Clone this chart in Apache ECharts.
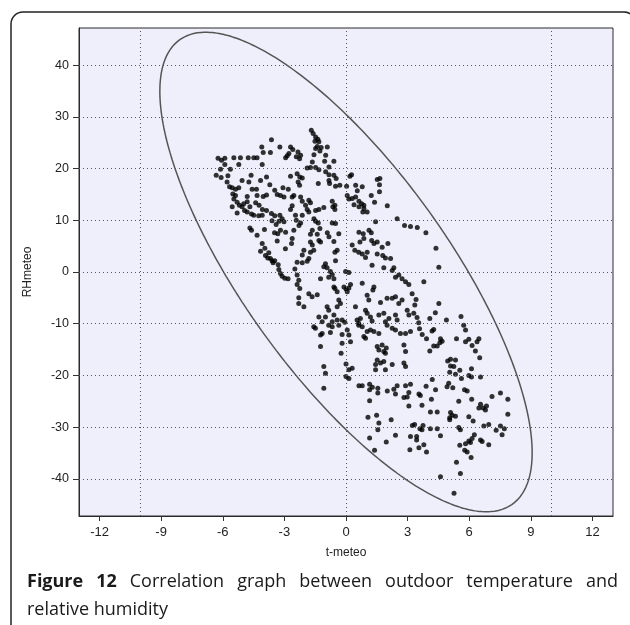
<!DOCTYPE html>
<html><head><meta charset="utf-8">
<script src="https://cdn.jsdelivr.net/npm/echarts@6/dist/echarts.min.js"></script>
<style>html,body{margin:0;padding:0;background:#fff}#c{width:630px;height:625px}</style>
</head><body><div id="c"></div>
<script>
// ---- data (t-meteo, RHmeteo), grouped by region ----
const xTickValues = [-12,-9,-6,-3,0,3,6,9,12];
const yTickValues = [-40,-30,-20,-10,0,10,20,30,40];
const xGridValues = [-10,0,10];
const xTitle = 't-meteo';
const yTitle = 'RHmeteo';
const captionBold = ['Figure','12'];
const captionLine1 = ['Correlation','graph','between','outdoor','temperature','and'];
const captionLine2 = 'relative humidity';

const obsUpperLeft = [[-3.63,25.6],[-4.10,24.2],[-3.22,24.2],[-3.68,23.1],[-4.03,23.1],[-6.23,22.0],[-6.06,21.6],[-5.90,22.0],[-5.46,22.1],[-5.14,22.1],
[-4.76,22.1],[-4.49,22.1],[-4.33,22.1],[-5.90,20.8],[-5.22,20.8],[-4.08,20.8],[-6.11,19.9],[-5.63,19.9],[-6.32,18.7],[-6.08,18.3],
[-5.75,18.6],[-4.62,18.7],[-5.06,17.7],[-4.16,17.7],[-3.87,18.4],[-5.79,17.4],[-5.67,16.5],[-5.54,16.3],[-5.38,16.0],[-5.22,16.3],
[-4.73,17.4],[-4.57,16.0],[-4.36,16.0],[-3.71,16.9],[-3.47,15.8],[-3.35,15.0],[-5.51,15.1],[-5.38,14.8],[-4.81,14.6],[-4.33,14.8],
[-4.03,14.6],[-3.87,14.9],[-5.46,14.1],[-5.30,13.5],[-4.98,13.2],[-4.81,13.6],[-4.40,13.4],[-4.23,12.9],[-5.54,12.6],[-5.19,12.9],
[-5.06,12.6],[-4.68,12.6],[-4.07,12.1],[-3.87,11.9],[-4.94,11.9],[-4.81,11.6],[-5.30,11.4],[-4.60,11.2],[-4.49,11.0],[-4.25,10.9],
[-4.08,11.0],[-3.63,11.3],[-3.47,10.9],[-3.22,11.0],[-3.60,9.9],[-3.40,9.2],[-3.26,9.8],[-4.68,8.5],[-4.60,8.1],[-3.97,8.2],
[-4.33,7.1],[-3.48,7.6],[-3.32,7.4],[-4.08,5.5],[-3.95,4.6],[-3.35,6.0]];

const obsUpperMiddle = [[-1.69,27.4],[-1.60,26.8],[-1.48,26.1],[-1.37,25.7],[-1.51,25.3],[-1.32,25.2],[-1.40,24.3],[-1.21,24.1],[-1.48,23.9],[-1.27,23.4],
[-0.91,24.2],[-2.70,24.2],[-2.59,23.7],[-2.78,22.9],[-2.34,23.2],[-2.21,22.6],[-2.42,22.3],[-2.26,21.9],[-2.94,22.1],[-2.86,22.5],
[-1.56,22.7],[-0.99,22.6],[-1.64,21.3],[-1.04,21.4],[-0.59,21.4],[-1.48,20.2],[-1.32,19.8],[-1.89,20.1],[-1.73,20.2],[-0.83,20.3],
[-2.70,18.5],[-2.38,19.0],[-2.25,18.4],[-2.13,18.2],[-0.99,19.4],[-0.83,18.8],[-0.59,18.7],[-0.48,18.1],[0.19,18.5],[0.27,18.8],
[1.52,17.9],[1.65,18.1],[1.63,16.9],[1.63,15.5],[-2.33,17.4],[-2.26,16.8],[-1.35,17.1],[-0.83,17.7],[-0.80,17.1],[-0.51,16.6],
[-0.30,16.8],[0.03,16.6],[0.47,16.8],[0.79,16.5],[0.55,15.7],[-3.07,16.3],[-2.81,16.0],[-3.19,14.8],[-3.02,14.5],[-2.62,14.5],
[-2.54,14.8],[-2.21,14.5],[-2.13,13.7],[-1.81,13.9],[-1.73,13.4],[-0.67,13.7],[-0.54,12.9],[0.06,14.8],[0.14,14.1],[0.30,14.2],
[0.47,14.5],[0.63,13.7],[0.76,13.2],[0.87,12.9],[0.39,13.0],[1.23,14.8],[1.39,13.5],[-2.62,12.8],[-2.70,12.1],[-1.97,12.9],
[-1.89,12.1],[-1.81,11.6],[-1.48,11.9],[-1.32,12.1],[-1.08,12.5],[-0.64,12.6],[-0.54,12.1],[0.63,12.6],[0.87,12.3],[0.82,11.6],
[1.03,11.6],[-3.11,10.3],[-3.02,9.7],[-2.46,11.0],[-2.42,10.0],[-2.13,11.0],[-1.56,10.3],[-1.48,9.8],[-1.35,9.5],[-1.27,8.4],
[-0.67,9.5],[-0.51,9.4],[-2.21,9.5],[-2.29,9.0],[-3.19,8.1],[-2.94,7.7],[-2.54,8.1],[-1.64,8.1],[-1.73,7.3],[-1.40,7.3],
[-0.91,7.6],[-0.83,6.8],[-0.35,7.4],[1.44,9.7],[0.63,7.7],[0.84,7.4],[1.12,8.1],[1.23,7.6],[-2.62,6.5],[-2.65,5.5],
[-1.73,5.8],[-1.64,5.2],[-1.32,6.1],[-1.24,5.8],[-0.59,5.9],[0.30,5.2],[0.68,5.8],[0.87,6.5],[1.25,6.1],[1.36,5.5],
[1.52,5.8],[1.76,4.8]];

const obsUpperRight = [[2.01,12.8],[2.49,10.3],[2.85,9.0],[3.14,8.8],[3.47,8.6],[3.89,7.6],[4.38,4.6],[4.52,0.9],[2.04,5.5]];

const obsMiddleLeft = [[-4.16,4.0],[-3.76,3.7],[-3.92,3.2],[-3.81,2.7],[-3.68,2.6],[-3.60,2.2],[-3.47,2.2],[-3.55,1.8],[-3.30,1.4],[-2.95,4.5],
[-2.38,1.9],[-2.49,0.6],[-2.38,-0.6],[-3.27,0.5],[-3.19,-0.3],[-3.11,-0.8],[-2.98,-1.2],[-2.82,-1.3],[-2.30,-1.6],[-2.38,-2.4],
[-2.25,-3.2],[-2.30,-5.0],[-2.30,-6.1]];

const obsMiddle = [[-2.05,4.2],[-2.13,3.3],[-1.73,3.8],[-1.57,4.2],[-1.81,2.6],[-1.89,2.1],[-2.13,1.8],[-1.00,1.6],[-1.08,1.0],[-0.92,0.8],
[-0.76,0.1],[-0.67,-0.5],[-0.54,3.8],[-0.43,4.2],[-0.51,2.2],[-0.02,0.1],[0.14,-0.1],[0.43,4.2],[0.62,3.8],[0.79,3.5],
[0.95,2.8],[1.03,3.8],[1.52,3.5],[1.79,3.2],[1.92,2.7],[2.17,2.6],[2.33,0.8],[2.25,0.3],[1.27,1.3],[1.84,0.8],
[2.41,-1.0],[2.57,-0.6],[2.73,-1.3],[2.90,-1.9],[3.06,-2.4],[-1.24,-1.3],[-0.84,-1.0],[-0.59,-1.3],[-2.05,-6.7],[-1.81,-4.2],
[-1.65,-4.8],[-1.40,-4.4],[-0.59,-2.9],[-0.54,-3.2],[-0.43,-3.8],[-0.10,-2.9],[0.00,-3.3],[0.14,-3.1],[0.06,-3.8],[0.22,-2.4],
[0.79,-2.2],[1.03,-4.5],[1.11,-5.4],[1.36,-2.9],[1.31,-3.5],[1.68,-5.9],[2.00,-5.1],[2.25,-5.1],[2.41,-4.8],[2.57,-6.1],
[2.73,-5.4],[2.98,-7.4],[3.22,-4.2],[3.35,-6.4],[-0.35,-5.4],[-0.27,-6.1],[-0.43,-6.7],[-0.92,-6.7],[-0.84,-7.4],[0.46,-6.7],
[0.95,-7.4],[1.03,-8.0],[1.60,-8.3],[1.84,-8.0],[2.09,-9.0],[2.41,-8.3],[2.49,-9.3],[3.06,-8.3],[3.30,-8.0],[-1.32,-8.7],
[-1.16,-9.6],[-0.59,-8.3],[-0.67,-9.6],[-0.43,-9.3],[-0.35,-10.3],[-1.00,-8.7],[-0.19,-9.3],[-0.06,-9.7],[0.54,-9.3],[0.62,-9.9],
[0.70,-9.0],[1.19,-8.7],[1.27,-9.5],[1.92,-9.6],[2.00,-10.3],[2.25,-10.9],[2.41,-11.2],[2.65,-11.9],[2.90,-11.9],[3.14,-11.5],
[-1.57,-10.6],[-1.49,-10.9],[-0.84,-10.3],[-0.67,-10.6],[-0.76,-11.7],[0.06,-11.2],[0.14,-12.2],[0.22,-13.5],[0.62,-10.3],[0.79,-10.6],
[-1.24,-12.2],[-1.16,-11.9],[-0.19,-12.1],[1.03,-11.5],[1.19,-11.2],[1.36,-11.5],[0.87,-12.5],[0.95,-12.8],[1.60,-11.9],[-1.24,-14.4],
[-0.19,-13.8],[-0.24,-15.7],[1.52,-14.4],[1.60,-15.1],[1.76,-14.1],[1.84,-15.4],[1.96,-14.7],[1.92,-15.7],[2.82,-14.1],[2.90,-15.4],
[1.52,-17.0],[1.44,-17.9],[1.68,-17.6],[1.84,-17.3],[2.25,-17.9],[2.82,-17.6],[2.90,-18.3],[0.00,-17.8],[-1.08,-18.3],[-1.00,-19.6],
[0.14,-18.9],[0.30,-18.6],[1.44,-18.9],[1.92,-18.9],[0.00,-20.2],[0.14,-20.6]];

const obsMiddleRight = [[3.79,-1.9],[4.20,-20.8],[4.36,-22.8]];

const obsLowerRight = [[3.41,-5.3],[4.52,-6.1],[4.35,-7.9],[4.08,-9.0],[4.89,-9.3],[5.60,-8.6],[5.73,-10.3],[5.82,-11.2],[3.46,-8.8],[3.54,-9.8],
[3.58,-11.0],[3.71,-12.1],[3.92,-12.9],[4.19,-11.4],[4.27,-11.1],[4.60,-12.9],[4.68,-13.4],[4.57,-13.7],[4.08,-15.3],[4.27,-14.3],
[4.44,-14.3],[5.38,-12.9],[5.82,-13.5],[5.98,-13.0],[6.14,-14.2],[6.30,-15.3],[6.51,-16.6],[6.38,-13.5],[6.47,-12.9],[4.95,-17.2],
[5.09,-16.9],[5.33,-17.0],[5.09,-18.2],[5.25,-18.3],[5.54,-19.0],[5.05,-19.4],[5.33,-19.8],[5.62,-20.6],[6.11,-18.7],[5.98,-20.0],
[6.11,-20.3],[6.55,-20.3],[5.00,-21.5],[5.20,-22.4],[4.92,-22.2],[5.77,-22.8],[5.90,-23.0],[6.12,-24.6],[5.49,-25.0],[6.55,-25.6],
[6.68,-26.3],[6.79,-26.7],[6.84,-25.9],[6.47,-26.3],[7.11,-24.1],[7.52,-23.4],[7.88,-24.6],[7.88,-27.5],[4.16,-24.6],[4.11,-27.1],
[4.44,-27.1],[5.09,-27.2],[5.17,-27.7],[5.05,-28.2],[5.05,-28.6],[5.33,-27.9],[5.98,-28.0],[6.19,-28.8],[3.75,-29.7],[3.70,-30.5],
[4.11,-30.3],[4.44,-30.3],[4.60,-31.7],[5.49,-30.1],[5.57,-30.5],[6.71,-29.8],[6.95,-29.5],[7.31,-30.6],[7.52,-29.8],[7.60,-31.5],
[7.71,-30.3],[6.25,-31.5],[6.14,-32.2],[6.06,-33.0],[5.98,-32.7],[6.63,-32.8],[6.55,-32.5],[6.95,-33.4],[5.54,-33.5],[5.78,-34.5],
[5.90,-34.8],[6.09,-35.9],[5.82,-33.2],[5.38,-36.8],[5.57,-39.0],[4.60,-39.6],[3.90,-22.1],[3.62,-23.9],[3.70,-25.8],[3.79,-33.4],
[3.92,-34.8],[5.26,-42.8]];

const obsLowerMiddle = [[-1.08,-22.5],[0.63,-22.0],[0.79,-22.0],[1.15,-21.7],[1.15,-22.8],[1.28,-22.3],[1.55,-22.5],[1.55,-23.4],[2.01,-23.0],[2.33,-22.7],
[2.41,-23.6],[2.49,-22.0],[2.90,-22.0],[3.06,-23.3],[2.82,-24.3],[2.98,-24.2],[3.14,-21.7],[3.55,-23.6],[1.15,-24.9],[3.06,-25.9],
[1.07,-28.1],[1.49,-27.7],[1.60,-29.2],[1.55,-30.5],[2.20,-28.6],[3.23,-29.7],[3.34,-29.5],[3.60,-30.3],[1.15,-32.1],[1.96,-32.9],
[2.41,-31.6],[3.14,-31.8],[3.44,-31.8],[3.44,-32.5],[1.39,-34.5],[3.11,-34.4],[3.55,-34.0]];

// fitted correlation ellipse (centre and two conjugate semi-axis vectors, in data units)
const ellipseCentre = [0, 0];
const ellipseMajor = [-6.94, 46.37];
const ellipseMinor = [5.83, 0.873];

const observations = [].concat(obsUpperLeft, obsUpperMiddle, obsUpperRight, obsMiddleLeft,
  obsMiddle, obsMiddleRight, obsLowerRight, obsLowerMiddle);

const ellipsePts = [];
for (let i = 0; i <= 360; i++) {
  const a = i * Math.PI / 180, c = Math.cos(a), s = Math.sin(a);
  ellipsePts.push([ellipseCentre[0] + c * ellipseMajor[0] + s * ellipseMinor[0],
                   ellipseCentre[1] + c * ellipseMajor[1] + s * ellipseMinor[1]]);
}

// caption layout (justified first line)
const capFont = '"Open Sans", "Noto Sans", sans-serif';
const capSize = 18;
const cv = document.createElement('canvas').getContext('2d');
const words = captionBold.map(w => ({t: w, b: true})).concat(captionLine1.map(w => ({t: w, b: false})));
let totalW = 0;
words.forEach(w => { cv.font = (w.b ? 'bold ' : '') + capSize + 'px ' + capFont; w.w = cv.measureText(w.t).width; totalW += w.w; });
const capLeft = 27, capRight = 618;
const gap = (capRight - capLeft - totalW) / (words.length - 1);
const capGraphics = [];
let cx = capLeft;
words.forEach(w => {
  capGraphics.push({type: 'text', x: cx, y: 582, style: {text: w.t, font: (w.b ? 'bold ' : '') + capSize + 'px ' + capFont, fill: '#1a1a1a', verticalAlign: 'middle'}});
  cx += w.w + gap;
});
capGraphics.push({type: 'text', x: capLeft, y: 610, style: {text: captionLine2, font: capSize + 'px ' + capFont, fill: '#1a1a1a', verticalAlign: 'middle'}});

const chart = echarts.init(document.getElementById('c'), null, {renderer: 'canvas'});
const gridDot = {type: [1, 3], color: '#555', width: 1};
chart.setOption({
  animation: false,
  backgroundColor: '#fff',
  grid: {left: 79, top: 28, width: 534, height: 488, show: true, backgroundColor: '#EFEFFB', borderColor: '#2a2a2a', borderWidth: 1},
  xAxis: {
    type: 'value', min: -13, max: 13,
    name: xTitle, nameLocation: 'middle', nameGap: 31,
    nameTextStyle: {color: '#222', fontSize: 12, fontFamily: 'Liberation Sans'},
    axisLine: {show: true, onZero: false, lineStyle: {color: '#2a2a2a'}},
    axisTick: {show: true, customValues: xTickValues, length: 5, lineStyle: {color: '#333'}},
    axisLabel: {customValues: xTickValues, color: '#222', fontSize: 13, fontFamily: 'Liberation Sans', margin: 10},
    splitLine: {show: false}
  },
  yAxis: {
    type: 'value', min: -47.2, max: 47.2,
    name: yTitle, nameLocation: 'middle', nameGap: 45, nameRotate: 90,
    nameTextStyle: {color: '#222', fontSize: 12, fontFamily: 'Liberation Sans'},
    axisLine: {show: true, onZero: false, lineStyle: {color: '#2a2a2a'}},
    axisTick: {show: true, customValues: yTickValues, length: 6, lineStyle: {color: '#333'}},
    axisLabel: {customValues: yTickValues, color: '#222', fontSize: 12.5, fontFamily: 'Liberation Sans', margin: 10},
    splitLine: {show: false}
  },
  graphic: [
    {type: 'rect', shape: {x: 11, y: 12, width: 625, height: 700, r: 12}, style: {fill: 'none', stroke: '#222', lineWidth: 1.5}, z: 100}
  ].concat(capGraphics),
  series: [
    {
      type: 'line', data: ellipsePts, showSymbol: false, smooth: false, z: 2,
      lineStyle: {color: '#555', width: 1.5}, silent: true,
      markLine: {
        silent: true, symbol: ['none', 'none'], label: {show: false},
        lineStyle: gridDot, emphasis: {disabled: true},
        data: xGridValues.map(v => ({xAxis: v})).concat(yTickValues.map(v => ({yAxis: v})))
      }
    },
    {
      type: 'scatter', data: observations, symbol: 'circle', symbolSize: 5, z: 3,
      itemStyle: {color: '#000'}, silent: true
    }
  ]
});
</script></body></html>
